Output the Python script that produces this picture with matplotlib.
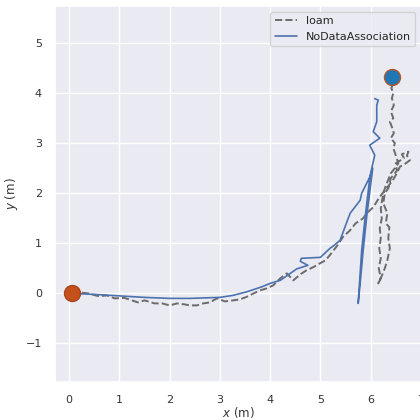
import matplotlib
matplotlib.use("Agg")
import matplotlib.pyplot as plt
import seaborn as sns

sns.set_theme(style="darkgrid")
plt.rcParams['font.family'] = ['DejaVu Sans']

loam_x = [0.05, 0.2, 0.38, 0.6, 0.75, 0.91, 1.1, 1.25, 1.37, 1.5, 1.7, 1.85, 2.0, 2.15, 2.3,
          2.4, 2.54, 2.67, 2.8, 2.94, 3.1, 3.26, 3.4, 3.53, 3.67, 3.8, 3.93, 4.06, 4.2,
          4.33, 4.46, 4.6, 4.72, 4.85, 4.99, 5.1, 5.2, 5.33, 5.45, 5.58, 5.7, 5.85, 5.92,
          6.05, 6.18, 6.3, 6.44, 6.52, 6.58, 6.7, 6.78, 6.72, 6.75, 6.62, 6.66, 6.5, 6.52,
          6.4, 6.35, 6.28, 6.25, 6.33, 6.3, 6.37, 6.35, 6.38, 6.33, 6.28, 6.22, 6.15,
          6.2, 6.16, 6.2, 6.17, 6.2, 6.18, 6.22, 6.2, 6.25, 6.3, 6.4, 6.48, 6.55, 6.5,
          6.45, 6.48, 6.4, 6.46, 6.43, 6.38, 6.45, 6.4, 6.46, 6.42, 6.45, 6.41, 6.45, 6.42]
loam_y = [0.0, 0.02, 0.0, -0.06, -0.04, -0.1, -0.09, -0.14, -0.18, -0.14, -0.2, -0.2,
          -0.24, -0.2, -0.22, -0.24, -0.24, -0.2, -0.18, -0.1, -0.16, -0.14, -0.12, -0.07,
          0.0, 0.06, 0.1, 0.16, 0.3, 0.4, 0.26, 0.38, 0.46, 0.52, 0.6, 0.66, 0.78, 0.95,
          1.13, 1.25, 1.4, 1.5, 1.6, 1.72, 1.93, 2.08, 2.26, 2.4, 2.53, 2.6, 2.66, 2.75,
          2.83, 2.78, 2.7, 2.6, 2.45, 2.3, 2.1, 2.0, 1.8, 1.6, 1.4, 1.32, 1.1, 0.9, 0.66,
          0.5, 0.35, 0.2, 0.3, 0.5, 0.7, 0.9, 1.1, 1.3, 1.5, 1.7, 2.0, 2.15, 2.4, 2.5,
          2.6, 2.75, 2.9, 3.0, 3.1, 3.2, 3.3, 3.43, 3.5, 3.63, 3.76, 3.9, 4.0, 4.1, 4.2, 4.33]

nda_x = [0.05, 0.5, 1.0, 1.5, 2.0, 2.4, 3.0, 3.26, 3.53, 3.83, 4.0, 4.2, 4.53, 4.75, 4.6,
         4.62, 5.0, 5.19, 5.26, 5.39, 5.59, 5.79, 5.82, 5.98, 6.04, 5.92, 5.85, 5.79, 5.75,
         5.82, 5.89, 5.98, 6.02, 6.08, 5.98, 6.18, 6.05, 6.12, 6.12, 6.15, 6.08]
nda_y = [0.0, -0.02, -0.05, -0.08, -0.1, -0.1, -0.08, -0.04, 0.03, 0.13, 0.2, 0.26, 0.49,
         0.56, 0.64, 0.7, 0.72, 0.9, 0.95, 1.06, 1.6, 1.86, 2.0, 2.32, 2.5, 1.53, 0.86, 0.2,
         -0.2, 0.86, 1.53, 2.3, 2.5, 2.76, 2.96, 3.1, 3.23, 3.43, 3.76, 3.86, 3.89]

start_xy = (0.05, 0.0)
end_xy = (6.42, 4.33)

fig = plt.figure(figsize=(4.2, 4.2), dpi=100)
ax = fig.add_axes([55/420, 1 - 382/420, 366/420, 376/420])

ax.plot(loam_x, loam_y, '--', color='#555555', lw=1.4, alpha=0.85, label='loam')
ax.plot(nda_x, nda_y, '-', color='#4c72b0', lw=1.2, label='NoDataAssociation')

ax.plot(*start_xy, 'o', ms=11.5, color='#c4501c', mec='#a8441a', zorder=5)
ax.plot(*end_xy, 'o', ms=11.5, color='#b5562a', zorder=5)
ax.plot(*end_xy, 'o', ms=9.5, color='#1f77b4', zorder=6)

ax.set_xlim(-0.28, 7.0)
ax.set_ylim(-1.77, 5.74)
ax.set_xticks(range(0, 8))
ax.set_yticks(range(-1, 6))
ax.tick_params(labelsize=8, colors='#333333')
ax.set_xlabel('$x$ (m)', fontsize=8.5, color='#333333', labelpad=0)
ax.set_ylabel('$y$ (m)', fontsize=8.5, color='#333333')
ax.legend(loc='upper right', fontsize=8, borderaxespad=0.5)

fig.savefig('out.png', dpi=100)
